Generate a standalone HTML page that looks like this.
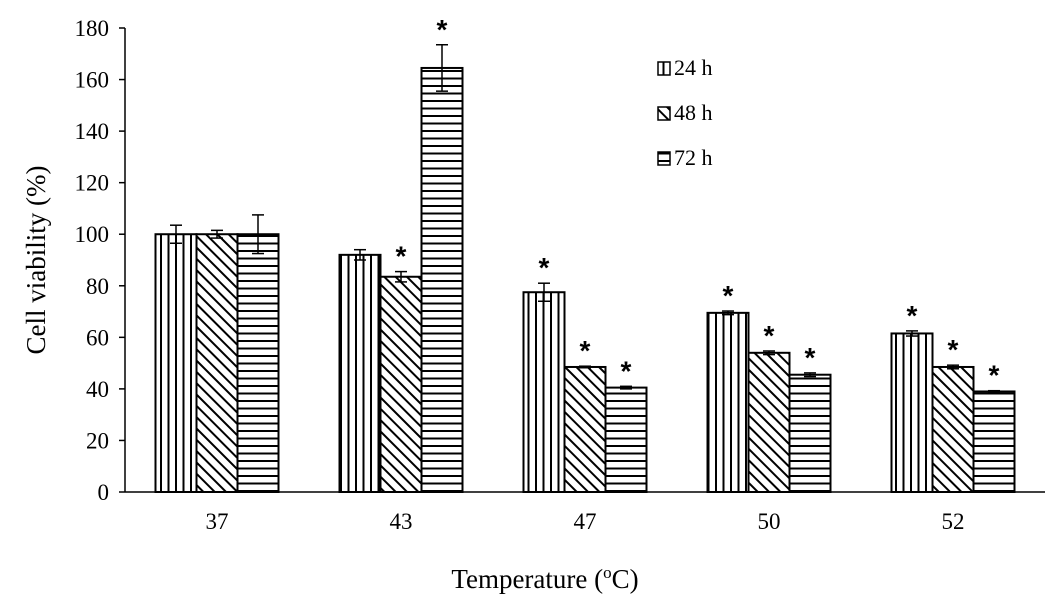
<!DOCTYPE html>
<html><head><meta charset="utf-8"><style>body{margin:0;background:#fff}svg{display:block}</style></head>
<body>
<svg id="chart" width="1063" height="606" viewBox="0 0 1063 606" font-family="Liberation Serif, serif">
<defs>
<pattern id="pv" width="7.5" height="10" patternUnits="userSpaceOnUse"><line x1="3.5" y1="0" x2="3.5" y2="10" stroke="#000" stroke-width="2"/></pattern>
<pattern id="pd" width="8" height="8" patternUnits="userSpaceOnUse" patternTransform="rotate(-45)"><line x1="4" y1="0" x2="4" y2="8" stroke="#000" stroke-width="2"/></pattern>
<pattern id="ph" width="10" height="7.5" patternUnits="userSpaceOnUse"><line x1="0" y1="3.5" x2="10" y2="3.5" stroke="#000" stroke-width="2"/></pattern>
</defs>
<g id="plot"></g>
</svg>
<script>
const categories=['37','43','47','50','52'];
const series24=[100,92,77.5,69.5,61.5];
const series48=[100,83.5,48.5,54,48.5];
const series72=[100,164.5,40.5,45.5,39];
const err24=[3.5,2,3.5,0.7,1];
const err48=[1.5,2,0.3,0.7,0.7];
const err72=[7.5,9,0.5,0.7,0.3];
const sig24=[false,false,true,true,true];
const sig48=[false,true,true,true,true];
const sig72=[false,true,true,true,true];
const yTicks=[0,20,40,60,80,100,120,140,160,180];
const seriesNames=['24 h','48 h','72 h'];

const NS='http://www.w3.org/2000/svg';
const g=document.getElementById('plot');
const x0=125,x1=1045,yb=492,yt=28,ymax=180;
const y=v=>yb-(v/ymax)*(yb-yt);
const band=(x1-x0)/categories.length;
const cx=i=>x0+band*(i+0.5);
const bw=41;
function mk(t,a,p){const e=document.createElementNS(NS,t);for(const k in a)e.setAttribute(k,a[k]);(p||g).appendChild(e);return e;}
let ax=mk('line',{x1:x0,y1:yt,x2:x0,y2:yb,stroke:'#000','stroke-width':1.5});


let bx=mk('line',{x1:x0,y1:yb,x2:x1,y2:yb,stroke:'#000','stroke-width':1.5});


yTicks.forEach(v=>{
 mk('line',{x1:x0-6,y1:y(v),x2:x0,y2:y(v),stroke:'#000','stroke-width':1.5});
 const t=mk('text',{x:x0-16,y:y(v)+8,'text-anchor':'end','font-size':23});
 t.textContent=v;
 
 
});
const all=[series24,series48,series72],errs=[err24,err48,err72],sigs=[sig24,sig48,sig72],fills=['url(#pv)','url(#pd)','url(#ph)'];
categories.forEach((c,i)=>{
 const t=mk('text',{x:cx(i),y:yb+37,'text-anchor':'middle','font-size':23});
 t.textContent=c;
 
 
 all.forEach((s,j)=>{
  const bxl=cx(i)-bw*1.5+bw*j, v=s[i];
  mk('rect',{x:bxl,y:y(v),width:bw,height:yb-y(v),fill:'#fff'});
  const r=mk('rect',{x:bxl,y:y(v),width:bw,height:yb-y(v),fill:fills[j],stroke:'#000','stroke-width':2});
  
  
  const m=bxl+bw/2,e=errs[j][i];
  mk('line',{x1:m,y1:y(v+e),x2:m,y2:y(v-e),stroke:'#000','stroke-width':1.5});
  mk('line',{x1:m-6,y1:y(v+e),x2:m+6,y2:y(v+e),stroke:'#000','stroke-width':1.5});
  mk('line',{x1:m-6,y1:y(v-e),x2:m+6,y2:y(v-e),stroke:'#000','stroke-width':1.5});
  if(sigs[j][i]){const st=mk('text',{x:m,y:y(v+e)-6,'text-anchor':'middle','font-size':28,'font-weight':'bold','font-family':'Liberation Sans, sans-serif'});st.textContent='*';
   
   }
 });
});
seriesNames.forEach((n,j)=>{
 const ly=62+j*45;
 mk('rect',{x:658,y:ly,width:12,height:13,fill:'#fff'});
 mk('rect',{x:658,y:ly,width:12,height:13,fill:fills[j],stroke:'#000','stroke-width':1.5});
 const t=mk('text',{x:674,y:ly+13,'font-size':22});t.textContent=n;
 
 
});
const yt1=mk('text',{x:0,y:0,'font-size':27,'text-anchor':'middle',transform:'translate(45,260) rotate(-90)'});yt1.textContent='Cell viability (%)';


const xt=mk('text',{x:545,y:588,'font-size':27,'text-anchor':'middle'});
xt.innerHTML='Temperature (<tspan font-size="17" dy="-10">o</tspan><tspan dy="10">C)</tspan>';


</script>
</body></html>
